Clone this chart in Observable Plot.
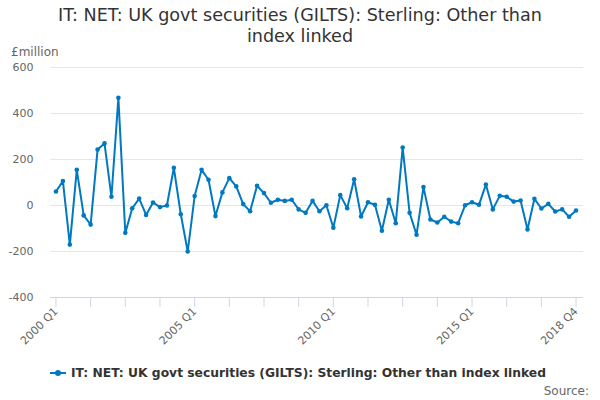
<!DOCTYPE html>
<html>
<head>
<meta charset="utf-8">
<script src="https://cdn.jsdelivr.net/npm/d3@7"></script>
<script src="https://cdn.jsdelivr.net/npm/@observablehq/plot@0.6"></script>
<style>
  html, body { margin: 0; padding: 0; background: #fff; }
  #wrap { position: relative; width: 600px; height: 400px; font-family: "DejaVu Sans", sans-serif; overflow: hidden; }
  #chart { position: absolute; left: 0; top: 0; }
  .title { position: absolute; left: 0; top: 5px; width: 600px; text-align: center; font-size: 17.6px; line-height: 21px; color: #333; }
  .unit { position: absolute; left: 11px; top: 45px; font-size: 12px; color: #666; }
  .legend { position: absolute; left: 0; top: 366px; width: 596px; text-align: center; font-size: 12.3px; font-weight: bold; color: #333; }
  .sw { display: inline-block; position: relative; width: 16px; height: 2px; background: #0079c1; vertical-align: middle; margin-right: 5px; top: -1px; }
  .sw::after { content: ""; position: absolute; left: 5px; top: -2px; width: 6px; height: 6px; border-radius: 3px; background: #0079c1; }
  .source { position: absolute; right: 11px; top: 384px; font-size: 12px; color: #666; }
</style>
</head>
<body>
<div id="wrap">
  <div class="title">IT: NET: UK govt securities (GILTS): Sterling: Other than<br>index linked</div>
  <div class="unit">£million</div>
  <div id="chart"></div>
  <div class="legend"><span class="sw"></span>IT: NET: UK govt securities (GILTS): Sterling: Other than index linked</div>
  <div class="source">Source:</div>
</div>
<script>
const years = d3.range(2000, 2019);
const quarterNames = ["Q1", "Q2", "Q3", "Q4"];
const quarters = years.flatMap(y => quarterNames.map(q => `${y} ${q}`));

const values = [
  61, 106, -170, 155, -43, -83, 243, 270, 38, 468,
  -119, -12, 30, -41, 13, -7, 0, 164, -38, -200,
  41, 155, 112, -46, 57, 119, 83, 6, -25, 86,
  54, 12, 25, 20, 25, -17, -32, 20, -25, 1,
  -97, 45, -12, 114, -48, 14, 3, -110, 25, -77,
  252, -32, -127, 80, -61, -74, -49, -70, -77, 1,
  14, 3, 91, -17, 42, 38, 17, 22, -104, 29,
  -13, 7, -26, -17, -49, -22
];

const yTicks = [-400, -200, 0, 200, 400, 600];
const tickQuarters = quarters.filter((d, i) => i % 5 === 0);
const labelQuarters = ["2000 Q1", "2005 Q1", "2010 Q1", "2015 Q1", "2018 Q4"];

const data = quarters.map((q, i) => ({q, v: values[i]}));
const color = "#0079c1";

const chart = Plot.plot({
  width: 600,
  height: 400,
  marginTop: 67,
  marginBottom: 103,
  marginLeft: 50,
  marginRight: 17,
  style: {fontFamily: "DejaVu Sans, sans-serif", fontSize: "11px", background: "transparent", overflow: "visible"},
  x: {type: "point", domain: quarters, insetLeft: 2, insetRight: 4, label: null},
  y: {domain: [-400, 600], label: null},
  marks: [
    Plot.gridY(yTicks, {stroke: "#e6e6e6", strokeOpacity: 1}),
    Plot.axisY(yTicks, {tickSize: 0, tickPadding: 17, fill: "#666", label: null, fontSize: 11, tickFormat: d => String(d)}),
    Plot.ruleY([-400], {stroke: "#ccd6eb"}),
    Plot.axisX(tickQuarters, {tickSize: 10, stroke: "#ccd6eb", strokeOpacity: 1, tickFormat: () => "", label: null}),
    Plot.axisX(labelQuarters, {tickSize: 0, tickPadding: 12, tickRotate: -45, fill: "#666", label: null, fontSize: 11}),
    Plot.line(data, {x: "q", y: "v", stroke: color, strokeWidth: 2}),
    Plot.dot(data, {x: "q", y: "v", r: 2.3, fill: color, stroke: "none"})
  ]
});
document.getElementById("chart").appendChild(chart);
</script>
</body>
</html>
